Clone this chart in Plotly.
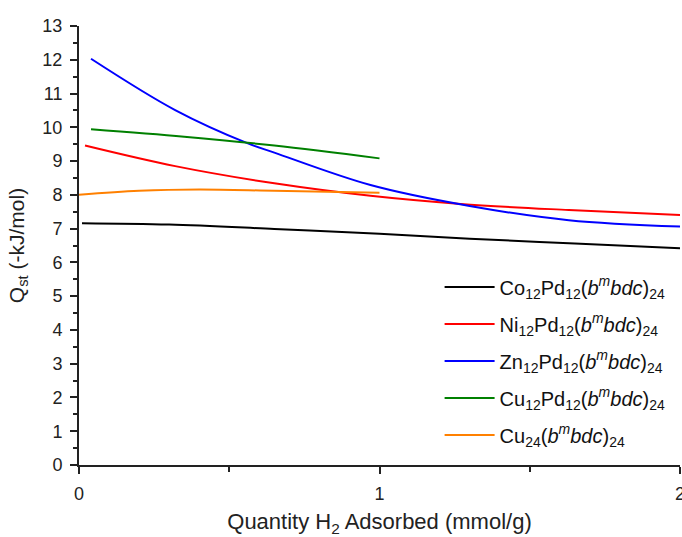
import plotly.graph_objects as go

# Isosteric heat of H2 adsorption versus loading
co_x = [0.01, 0.30, 0.65, 1.00, 1.30, 1.65, 2.00]
co_y = [7.16, 7.12, 6.99, 6.85, 6.70, 6.56, 6.42]

ni_x = [0.02, 0.32, 0.65, 0.97, 1.27, 1.63, 2.00]
ni_y = [9.46, 8.85, 8.34, 7.97, 7.73, 7.55, 7.40]

zn_x = [0.04, 0.32, 0.56, 0.65, 0.97, 1.30, 1.63, 2.00]
zn_y = [12.03, 10.51, 9.53, 9.25, 8.29, 7.67, 7.25, 7.06]

cupd_x = [0.04, 0.35, 0.65, 1.00]
cupd_y = [9.94, 9.72, 9.46, 9.08]

cu_x = [0.00, 0.20, 0.40, 0.65, 1.00]
cu_y = [8.00, 8.12, 8.16, 8.12, 8.06]

series = [
    ("Co<sub>12</sub>Pd<sub>12</sub>(<i>b<sup>m</sup>bdc</i>)<sub>24</sub>", co_x, co_y, "#000000"),
    ("Ni<sub>12</sub>Pd<sub>12</sub>(<i>b<sup>m</sup>bdc</i>)<sub>24</sub>", ni_x, ni_y, "#ff0000"),
    ("Zn<sub>12</sub>Pd<sub>12</sub>(<i>b<sup>m</sup>bdc</i>)<sub>24</sub>", zn_x, zn_y, "#0000ff"),
    ("Cu<sub>12</sub>Pd<sub>12</sub>(<i>b<sup>m</sup>bdc</i>)<sub>24</sub>", cupd_x, cupd_y, "#008000"),
    ("Cu<sub>24</sub>(<i>b<sup>m</sup>bdc</i>)<sub>24</sub>", cu_x, cu_y, "#ff8000"),
]

fig = go.Figure()
for i, (name, xs, ys, color) in enumerate(series):
    fig.add_trace(go.Scatter(
        x=xs, y=ys, mode="lines", name=name, legendgroup=f"g{i}",
        line=dict(color=color, width=2, shape="spline", smoothing=1.0),
    ))

font_family = "Liberation Sans, Arial, sans-serif"
axis_color = "#222222"

fig.update_layout(
    width=682, height=537,
    margin=dict(l=79, r=2, t=26, b=72, autoexpand=False),
    paper_bgcolor="white", plot_bgcolor="white",
    font=dict(family=font_family, size=18, color="#222222"),
    showlegend=True,
    legend=dict(
        x=0.60, y=0.45, xanchor="left", yanchor="top",
        bgcolor="rgba(0,0,0,0)", borderwidth=0,
        font=dict(size=20, color="#111111"),
        itemwidth=50, tracegroupgap=8,
    ),
    xaxis=dict(
        range=[0, 2], tickvals=[0, 1, 2], ticktext=["0", "1", "2"],
        ticklabeloverflow="allow", automargin=False,
        ticks="outside", ticklen=7, tickwidth=1.5, tickcolor=axis_color,
        ticklabelstandoff=4,
        minor=dict(dtick=0.5, ticks="outside", ticklen=5, tickwidth=1.5, tickcolor=axis_color),
        showline=True, linecolor=axis_color, linewidth=2,
        showgrid=False, zeroline=False,
        title=dict(text="Quantity H<sub>2</sub> Adsorbed (mmol/g)", font=dict(size=22), standoff=16),
    ),
    yaxis=dict(
        range=[0, 13], dtick=1, automargin=False,
        ticks="outside", ticklen=7, tickwidth=1.5, tickcolor=axis_color,
        ticklabelstandoff=4,
        minor=dict(dtick=0.5, ticks="outside", ticklen=4, tickwidth=1.5, tickcolor=axis_color),
        showline=True, linecolor=axis_color, linewidth=2,
        showgrid=False, zeroline=False,
        title=dict(text="Q<sub>st</sub> (-kJ/mol)", font=dict(size=21), standoff=12),
    ),
)

fig.write_html("out.html")
